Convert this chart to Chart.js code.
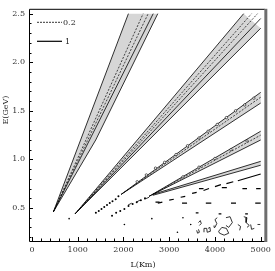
<!DOCTYPE html>
<html>
<head>
<meta charset="utf-8">
<script src="https://cdn.jsdelivr.net/npm/chart.js@4/dist/chart.umd.min.js"></script>
<style>
  html, body { margin: 0; padding: 0; background: #fff; }
  #wrap { width: 275px; height: 271px; }
</style>
</head>
<body>
<div id="wrap"><canvas id="osc"></canvas></div>
<script>
// tick labels
const xTicks = [0, 1000, 2000, 3000, 4000, 5000];
const yTicks = [0.5, 1.0, 1.5, 2.0, 2.5];

// band 1 (steepest)
const band1Left = [[468, 0.46], [2108, 2.5]];
const band1Right = [[468, 0.46], [1394, 1.2], [2750, 2.5]];
const band1Dash1 = [[468, 0.46], [2430, 2.5]];
const band1Dash2 = [[468, 0.46], [2540, 2.5]];
const band1Mid = [[468, 0.46], [2650, 2.5]];

// band 2
const band2Left = [[944, 0.44], [4627, 2.5]];
const band2Right = [[944, 0.44], [5000, 2.35]];
const band2Dash1 = [[944, 0.44], [4800, 2.5]];
const band2Dash2 = [[944, 0.44], [4930, 2.5]];
const band2Mid = [[944, 0.44], [5000, 2.45]];

// band 3
const band3Dots = [[1397, 0.45], [1460, 0.47], [1520, 0.49], [1580, 0.51], [1640, 0.53], [1700, 0.55], [1760, 0.57], [1830, 0.59], [1890, 0.62]];
const band3Upper = [[1950, 0.64], [5000, 1.69]];
const band3Lower = [[1950, 0.64], [5000, 1.58]];
const band3Dash = [[1950, 0.64], [5000, 1.64]];
const band3Rings = [[2300, 0.77], [2500, 0.84], [2700, 0.91], [2900, 0.97], [3150, 1.05], [3400, 1.14], [3650, 1.22], [3850, 1.29], [4050, 1.36], [4250, 1.43], [4450, 1.50], [4650, 1.56], [4850, 1.63]];

// band 4
const band4Dots = [[1750, 0.42], [1840, 0.45], [1930, 0.47], [2020, 0.49], [2110, 0.52], [2200, 0.54], [2290, 0.56], [2380, 0.58], [2470, 0.60]];
const band4Upper = [[2560, 0.62], [5000, 1.29]];
const band4Lower = [[2560, 0.62], [5000, 1.20]];
const band4Dash = [[2560, 0.62], [5000, 1.25]];
const band4Rings = [[3300, 0.82], [3650, 0.92], [4000, 1.01], [4350, 1.10], [4700, 1.19]];

// band 5 (thin)
const band5Dashes = [[2100, 0.53], [2180, 0.55], null, [2280, 0.56], [2360, 0.58], null, [2460, 0.59], [2560, 0.61]];
const band5Upper = [[2640, 0.64], [5000, 0.98]];
const band5Lower = [[2640, 0.63], [5000, 0.94]];

// band 6 (dashed row)
const band6Dashes = [[2750, 0.55], [2850, 0.56], null, [3000, 0.58], [3100, 0.59], null, [3250, 0.61], [3350, 0.62], null, [3500, 0.65], [3600, 0.66], null, [3750, 0.68], [3870, 0.70], null, [4000, 0.72], [4130, 0.74], null, [4250, 0.75], [4400, 0.77], null, [4500, 0.78], [5000, 0.85]];

// loose dashes lower down
const rowDashes = [
  [3650, 0.70], [3750, 0.70], null, [4150, 0.71], [4260, 0.71], null, [4600, 0.70], [4700, 0.70], null, [4900, 0.70], [5000, 0.70], null,
  [2700, 0.56], [2790, 0.56], null, [3280, 0.55], [3390, 0.55], null, [3800, 0.55], [3920, 0.55], null, [4350, 0.55], [4460, 0.55], null, [4880, 0.55], [5000, 0.55], null,
  [3580, 0.45], [3640, 0.45], null, [4080, 0.44], [4140, 0.44], null, [4660, 0.44], [4720, 0.44]
];
const looseDots = [[812, 0.39], [2020, 0.33], [2620, 0.39], [3180, 0.25], [3300, 0.40], [3470, 0.33]];

// small closed contours at the bottom right
const islands = [
  [[3640, 0.35], [3680, 0.37], [3700, 0.34], [3660, 0.32]],
  [[3600, 0.27], [3620, 0.24], [3660, 0.25], [3640, 0.28]],
  [[3760, 0.25], [3760, 0.29], [3820, 0.29], [3830, 0.25], [3900, 0.26], [3890, 0.30], [3850, 0.29]],
  [[4050, 0.40], [4000, 0.38], [4040, 0.34], [4000, 0.30], [3980, 0.32]],
  [[4080, 0.26], [4150, 0.30], [4250, 0.29], [4300, 0.24], [4200, 0.22], [4100, 0.24], [4080, 0.26]],
  [[4240, 0.40], [4330, 0.41], [4380, 0.35], [4300, 0.30], [4240, 0.32]],
  [[4500, 0.33], [4560, 0.31], [4540, 0.27]],
  [[4630, 0.41], [4700, 0.40], [4680, 0.35], [4750, 0.32], [4700, 0.30]],
  [[4780, 0.33], [4800, 0.28], [4860, 0.29]],
  [[4930, 0.33], [4990, 0.33]]
];

const toPts = (arr) => arr.map((p) => (p ? { x: p[0], y: p[1] } : { x: null, y: null }));
const solid = (arr) => ({ data: toPts(arr), showLine: true, borderColor: "#000", borderWidth: 0.8, pointRadius: 0, fill: false, spanGaps: false, order: 1 });
const dashed = (arr) => ({ ...solid(arr), borderDash: [2, 1.5], borderWidth: 0.7 });
const shade = (a, b) => ({
  data: toPts([...a, ...b.slice().reverse()]),
  showLine: true, borderWidth: 0, pointRadius: 0,
  backgroundColor: "#d6d6d6", fill: "shape", order: 5,
});
const dots = (arr, r) => ({ data: toPts(arr), showLine: false, pointRadius: r, pointBackgroundColor: "#000", pointBorderWidth: 0, order: 0 });
const rings = (arr) => ({ data: toPts(arr), showLine: false, pointRadius: 1.2, pointBackgroundColor: "#fff", pointBorderColor: "#000", pointBorderWidth: 0.6, order: 0 });

const datasets = [
  shade(band1Left, band1Right), shade(band2Left, band2Right), shade(band3Upper, band3Lower),
  shade(band4Upper, band4Lower), shade(band5Upper, band5Lower),
  solid(band1Left), solid(band1Right), dashed(band1Dash1), dashed(band1Dash2), solid(band1Mid),
  solid(band2Left), solid(band2Right), dashed(band2Dash1), dashed(band2Dash2), solid(band2Mid),
  dots(band3Dots, 1), solid(band3Upper), solid(band3Lower), dashed(band3Dash), rings(band3Rings),
  dots(band4Dots, 1), solid(band4Upper), solid(band4Lower), dashed(band4Dash), rings(band4Rings),
  solid(band5Dashes), solid(band5Upper), solid(band5Lower),
  { ...solid(band6Dashes), borderWidth: 1.2 },
  { ...solid(rowDashes), borderWidth: 1.3 },
  dots(looseDots, 0.8),
  ...islands.map((s) => solid(s)),
];

const frameAndTicks = {
  id: "frameAndTicks",
  afterDatasetsDraw(chart) {
    const { ctx, chartArea: a, scales } = chart;
    ctx.save();
    ctx.strokeStyle = "#000";
    ctx.lineWidth = 1;
    // inward ticks
    for (let v = 0; v <= 5000; v += 200) {
      const px = Math.round(scales.x.getPixelForValue(v)) + 0.5;
      const len = v % 1000 === 0 ? 4 : 2.5;
      ctx.beginPath(); ctx.moveTo(px, a.bottom); ctx.lineTo(px, a.bottom - len); ctx.stroke();
    }
    for (let i = 2; i <= 25; i++) {
      const py = Math.round(scales.y.getPixelForValue(i / 10)) + 0.5;
      const len = i % 5 === 0 ? 4 : 2.5;
      ctx.beginPath(); ctx.moveTo(a.left, py); ctx.lineTo(a.left + len, py); ctx.stroke();
    }
    // frame
    ctx.beginPath();
    ctx.moveTo(a.right, a.top + 0.5); ctx.lineTo(a.left + 0.5, a.top + 0.5);
    ctx.lineTo(a.left + 0.5, a.bottom + 0.5); ctx.lineTo(a.right, a.bottom + 0.5);
    ctx.stroke();
    ctx.strokeStyle = "#6e6e6e";
    ctx.lineWidth = 3;
    ctx.beginPath(); ctx.moveTo(a.right + 1, a.top); ctx.lineTo(a.right + 1, a.bottom + 1); ctx.stroke();
    // legend
    const lx = a.left + 8;
    ctx.lineWidth = 0.8;
    ctx.strokeStyle = "#000";
    ctx.setLineDash([2, 1]);
    ctx.beginPath(); ctx.moveTo(lx, a.top + 13.5); ctx.lineTo(lx + 25, a.top + 13.5); ctx.stroke();
    ctx.setLineDash([]);
    ctx.lineWidth = 1.2;
    ctx.beginPath(); ctx.moveTo(lx, a.top + 32.5); ctx.lineTo(lx + 25, a.top + 32.5); ctx.stroke();
    ctx.fillStyle = "#222";
    ctx.font = "8px 'DejaVu Serif'";
    ctx.textBaseline = "middle";
    ctx.fillText("0.2", lx + 26, a.top + 14);
    ctx.fillText("1", lx + 28, a.top + 33);
    // axis titles
    ctx.textAlign = "center";
    ctx.fillText("L(Km)", 143, 265);
    ctx.translate(6, 110);
    ctx.rotate(-Math.PI / 2);
    ctx.fillText("E(GeV)", 0, 0);
    ctx.restore();
  },
};

new Chart(document.getElementById("osc"), {
  type: "scatter",
  data: { datasets },
  options: {
    responsive: true,
    maintainAspectRatio: false,
    animation: false,
    layout: { padding: { top: 1, right: 6, left: 0, bottom: 0 } },
    plugins: { legend: { display: false }, tooltip: { enabled: false } },
    elements: { line: { tension: 0 } },
    scales: {
      x: {
        type: "linear", min: -65, max: 5090,
        grid: { display: false, drawTicks: false }, border: { display: false },
        afterBuildTicks: (s) => { s.ticks = xTicks.map((v) => ({ value: v })); },
        afterFit: (s) => { s.height = 30; },
        ticks: { padding: 4, color: "#333", font: { family: "DejaVu Serif", size: 8 }, maxRotation: 0, callback: (v) => String(v) },
      },
      y: {
        type: "linear", min: 0.16, max: 2.55,
        grid: { display: false, drawTicks: false }, border: { display: false },
        afterBuildTicks: (s) => { s.ticks = yTicks.map((v) => ({ value: v })); },
        afterFit: (s) => { s.width = 29; },
        ticks: { padding: 4, color: "#333", font: { family: "DejaVu Serif", size: 8 }, callback: (v) => v.toFixed(1) },
      },
    },
  },
  plugins: [frameAndTicks],
});
</script>
</body>
</html>
